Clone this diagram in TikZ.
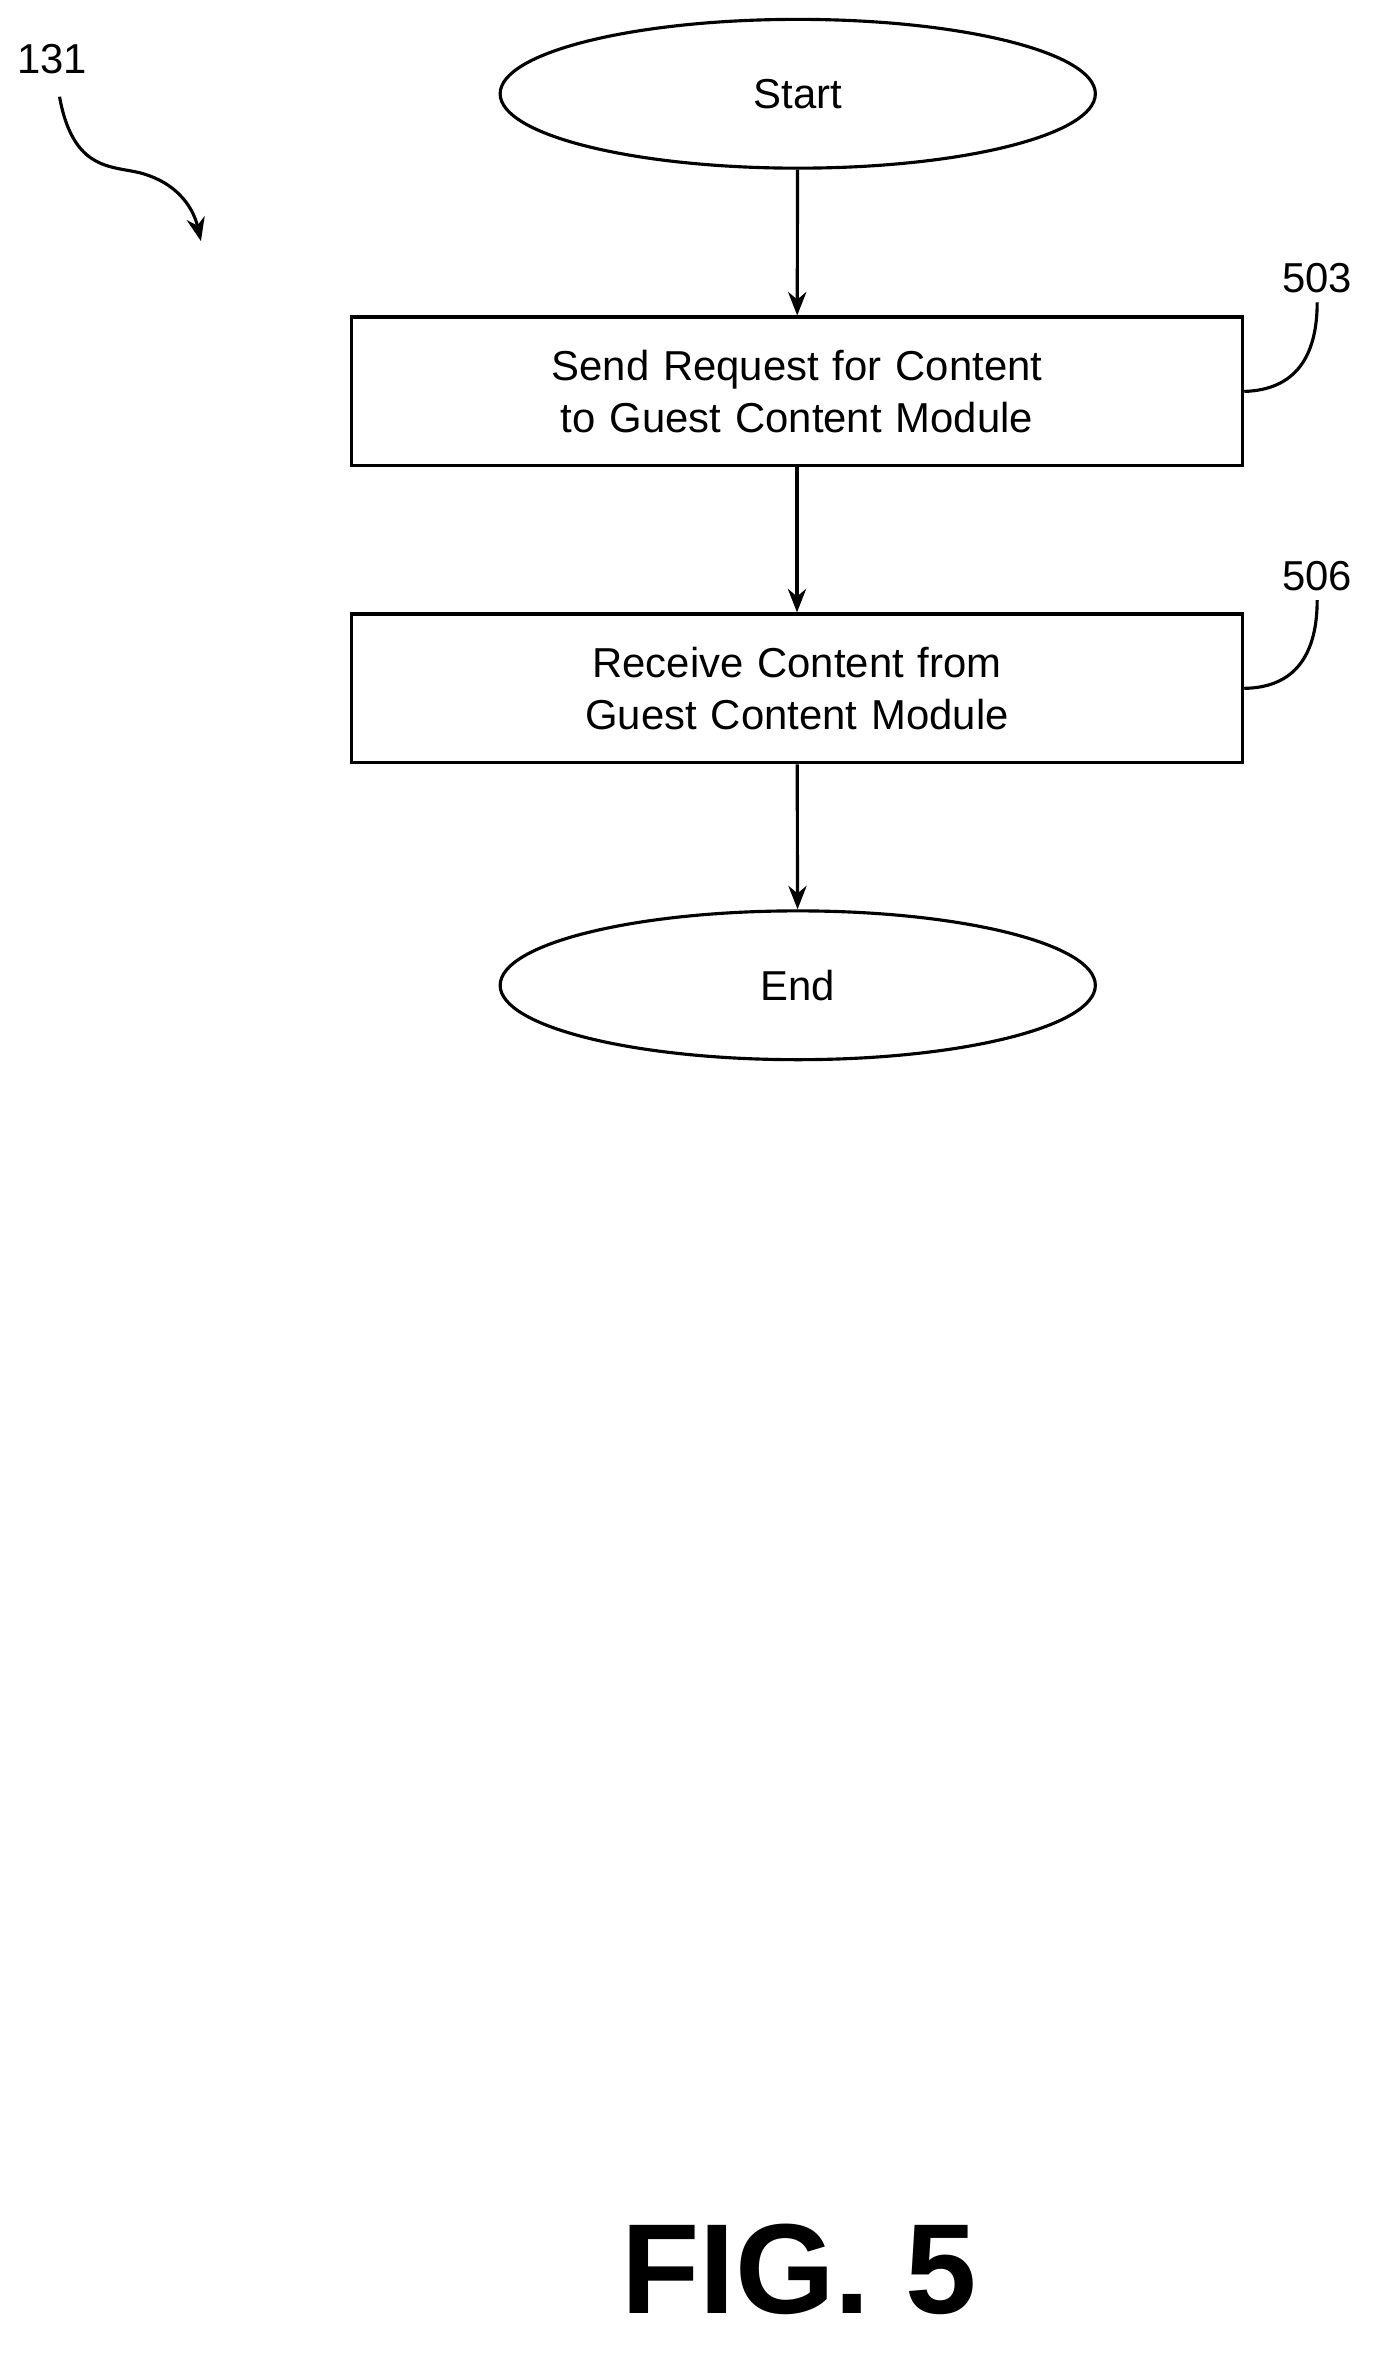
\documentclass[tikz,border=0pt]{standalone}
\usepackage{fontspec}
\setmainfont{Liberation Sans}
\usetikzlibrary{positioning, shapes.geometric, arrows.meta}

\tikzset{
  terminal/.style={draw, ellipse, line width=1.2pt, minimum width=8cm, minimum height=2cm, font=\fontsize{16}{19}\selectfont},
  stepbox/.style={draw, rectangle, line width=1.2pt, minimum width=11.98cm, minimum height=2cm, text width=11cm, align=center, font=\fontsize{16}{20}\selectfont},
  flow/.style={-{Stealth[length=9pt,width=7pt]}, line width=1.2pt},
  refnum/.style={font=\fontsize{16}{19}\selectfont}
}

\begin{document}
\begin{tikzpicture}[x=0.02cm, y=-0.02cm]

        \useasboundingbox (0,0) rectangle (935,1585);

        \node[terminal] (S) at (536,63) {Start};
        \node[stepbox] (B1) at (535.5,263) {Send Request for Content to Guest Content Module};
        \node[stepbox] (B2) at (535.5,462.5) {Receive Content from Guest Content Module};
        \node[terminal] (E) at (536,662) {End};

        \draw[flow] (S) -- (B1);
        \draw[flow] (B1) -- (B2);
        \draw[flow] (B2) -- (E);

        \node[refnum] (N1) at (885,187) {503};
        \node[refnum] (N2) at (885,387) {506};
        \node[refnum] (N0) at (35,40) {131};

        \draw[line width=1.2pt] (B1.east) .. controls (870,262) and (885,240) .. (N1.south);
        \draw[line width=1.2pt] (B2.east) .. controls (870,462) and (885,440) .. (N2.south);
        \draw[flow] (40,65) .. controls (50,120) and (80,110) .. (100,118) .. controls (120,125) and (130,140) .. (135,162);

        \node[font=\fontsize{49}{55}\selectfont\bfseries] (F) at (537,1525) {FIG. 5};

\end{tikzpicture}
\end{document}
